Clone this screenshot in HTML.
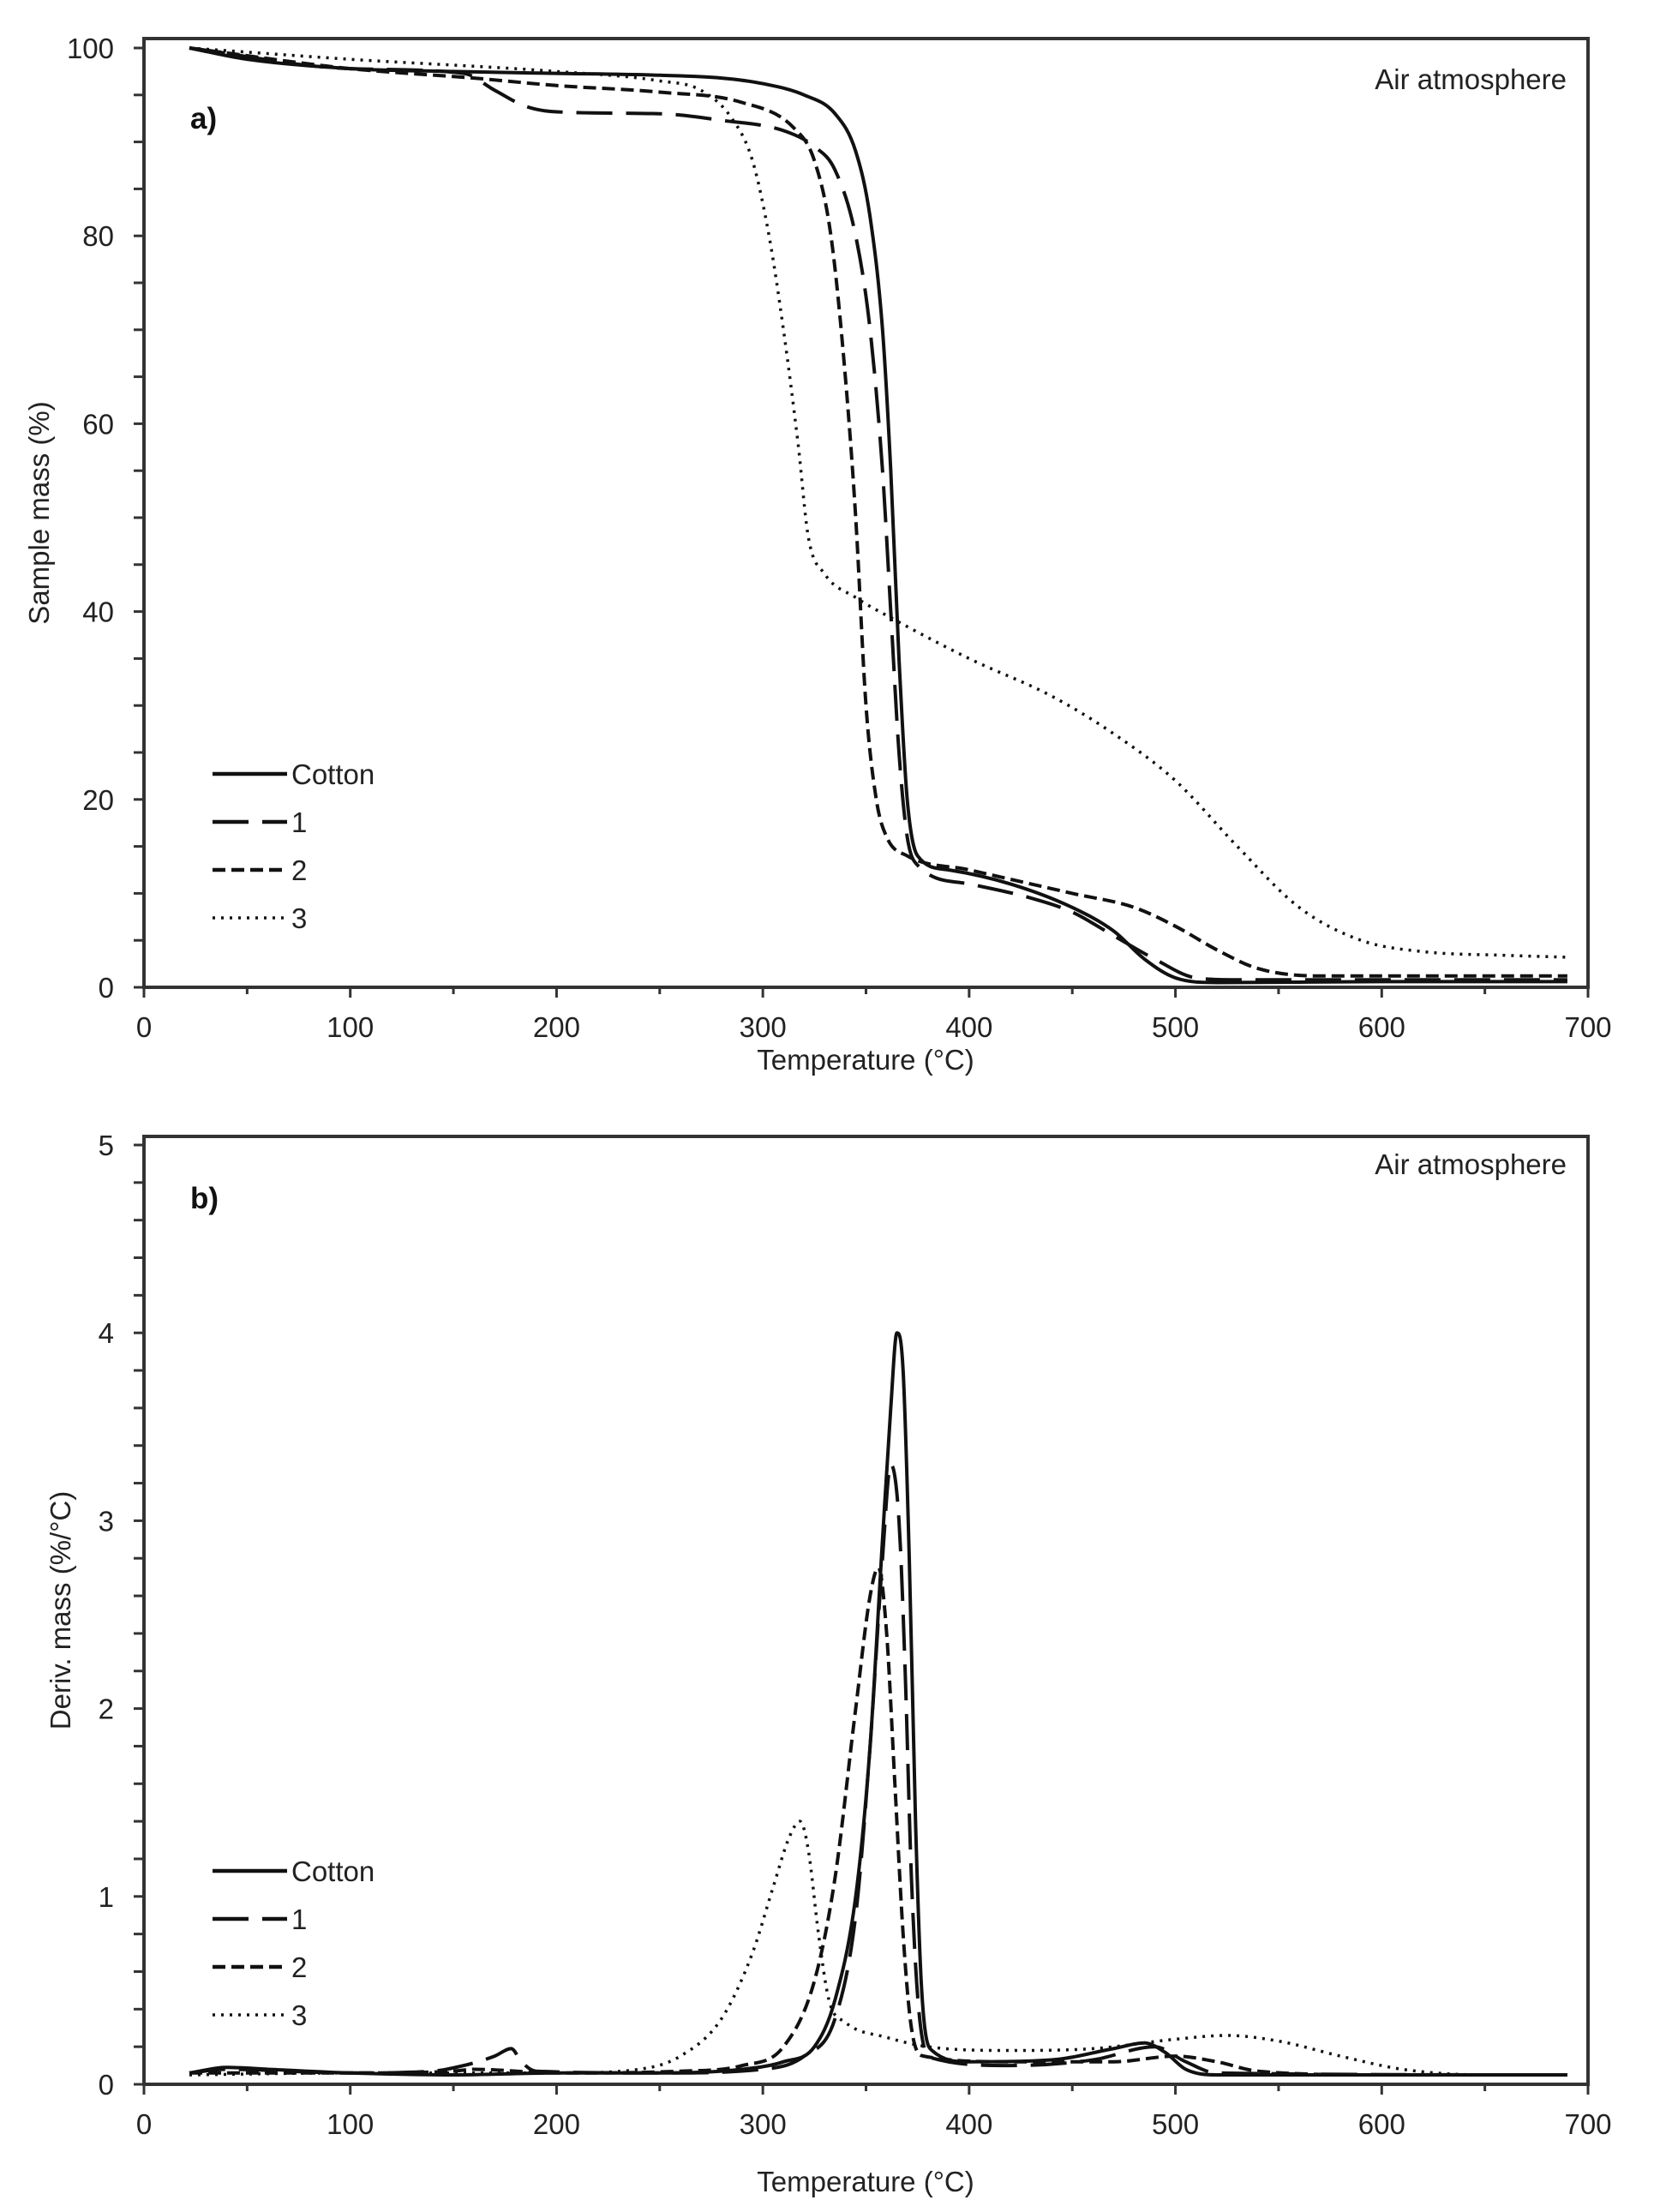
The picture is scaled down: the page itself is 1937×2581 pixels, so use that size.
<!DOCTYPE html>
<html><head><meta charset="utf-8"><style>
html,body{margin:0;padding:0;background:#fff;}
svg{display:block;font-family:"Liberation Sans",Arial,sans-serif;}
</style></head><body>
<svg id="fig" width="1937" height="2581" viewBox="0 0 1937 2581"></svg>
<script>
const xTicks=[0,100,200,300,400,500,600,700];
const yTicksA=[0,20,40,60,80,100];
const yTicksB=[0,1,2,3,4,5];
const seriesNames=["Cotton","1","2","3"];
// Panel a: sample mass (%)
const aCottonT=[22,50,100,150,200,250,280,300,320,335,345,352,358,362,366,370,375,390,420,450,470,485,500,520,600,690];
const aCottonV=[100,98.8,97.8,97.5,97.3,97.1,96.8,96.2,95,93,89,82,70,55,35,20,14,12.5,11,8.5,6,3,1,0.5,0.6,0.6];
const a1T=[22,100,155,170,185,200,250,280,310,325,335,345,352,358,362,366,370,375,400,430,450,470,490,510,530,690];
const a1V=[100,97.8,97.3,95.5,93.8,93.2,93,92.3,91.2,89.5,87,80,70,55,40,25,16,13,11,9.5,8,5.5,3,1,0.8,0.8];
const a2T=[22,100,160,200,250,290,315,325,333,340,345,350,355,360,370,400,450,480,500,520,540,570,690];
const a2V=[100,97.8,96.8,96,95.3,94.2,91.5,88,80,65,50,30,20,16,14,12.5,10,8.5,6.5,4,2,1.2,1.2];
const a3T=[22,100,200,250,270,285,295,303,310,317,322,330,345,365,400,440,470,500,530,560,590,620,660,690];
const a3V=[100,98.8,97.5,96.5,95.5,92.5,88,80,70,58,48,44,41.5,39,35,31,27,22,15,8.5,5,3.8,3.4,3.2];
// Panel b: derivative mass (%/°C)
const bCottonT=[22,40,60,100,150,200,250,290,310,325,335,345,352,358,362,365,368,371,374,377,382,400,440,470,485,495,505,520,690];
const bCottonV=[0.06,0.09,0.08,0.06,0.05,0.06,0.06,0.08,0.12,0.2,0.45,1.0,1.8,2.9,3.6,4.0,3.8,2.8,1.4,0.5,0.18,0.12,0.13,0.19,0.22,0.17,0.08,0.05,0.05];
const b1T=[22,40,100,140,155,170,178,183,190,250,300,320,335,345,352,358,362,366,369,372,376,382,420,460,490,505,520,690];
const b1V=[0.06,0.08,0.06,0.07,0.1,0.15,0.19,0.12,0.07,0.06,0.08,0.15,0.35,0.9,1.8,2.8,3.3,3.0,2.2,1.1,0.35,0.14,0.1,0.13,0.2,0.12,0.06,0.05];
const b2T=[22,100,150,160,200,260,290,310,325,335,345,352,356,360,364,368,372,378,420,470,500,520,540,600,690];
const b2V=[0.06,0.06,0.07,0.08,0.06,0.07,0.1,0.2,0.55,1.1,2.0,2.6,2.75,2.4,1.6,0.8,0.3,0.15,0.12,0.12,0.15,0.12,0.07,0.05,0.05];
const b3T=[22,100,200,240,260,280,295,305,313,318,322,327,332,340,360,380,420,460,500,525,550,580,610,650,690];
const b3V=[0.05,0.06,0.06,0.08,0.15,0.35,0.7,1.05,1.32,1.4,1.25,0.8,0.45,0.33,0.25,0.2,0.18,0.19,0.24,0.26,0.23,0.15,0.08,0.05,0.05];

const NS="http://www.w3.org/2000/svg";
const svg=document.getElementById('fig');
function mk(tag,attrs,parent){const e=document.createElementNS(NS,tag);for(const k in attrs)e.setAttribute(k,attrs[k]);(parent||svg).appendChild(e);return e;}
const X0=168,X1=1853;
const xs=v=>X0+(X1-X0)*v/700;
const dashes=["none","42 16","15 7","3 7"];

// monotone cubic path (Fritsch-Carlson)
function monoPath(px,py){
  const n=px.length,d=[],m=[];
  for(let i=0;i<n-1;i++)d.push((py[i+1]-py[i])/(px[i+1]-px[i]));
  m[0]=d[0];m[n-1]=d[n-2];
  for(let i=1;i<n-1;i++){m[i]=(d[i-1]*d[i]<=0)?0:(d[i-1]+d[i])/2;}
  for(let i=0;i<n-1;i++){if(d[i]===0){m[i]=0;m[i+1]=0;continue;}
    const a=m[i]/d[i],b=m[i+1]/d[i],s=a*a+b*b;if(s>9){const t=3/Math.sqrt(s);m[i]=t*a*d[i];m[i+1]=t*b*d[i];}}
  let p='M'+px[0].toFixed(1)+','+py[0].toFixed(1);
  for(let i=0;i<n-1;i++){const h=(px[i+1]-px[i])/3;
    p+=' C'+(px[i]+h).toFixed(1)+','+(py[i]+m[i]*h).toFixed(1)+' '+(px[i+1]-h).toFixed(1)+','+(py[i+1]-m[i+1]*h).toFixed(1)+' '+px[i+1].toFixed(1)+','+py[i+1].toFixed(1);}
  return p;
}

function panel(id,top,y0,yTop,yMax,yTicks,minorStep,ytitle,ytitleX,label,labelY,airY,series,legendY,xtitleY){
  const g=mk('g',{});
  
  
  const ys=v=>y0-(y0-yTop)*v/yMax;
  const frame=mk('rect',{x:X0,y:top,width:X1-X0,height:y0-top,fill:'none',stroke:'#333','stroke-width':4},g);
  
  
  for(let v=0;v<=yMax+1e-9;v+=minorStep){const yy=ys(v);const t=mk('line',{x1:X0-12,x2:X0,y1:yy,y2:yy,stroke:'#333','stroke-width':3},g);
    }
  yTicks.forEach(v=>{const t=mk('text',{x:X0-35,y:ys(v)+12,'text-anchor':'end','font-size':33,fill:'#222'},g);t.textContent=v;
    });
  for(let v=0;v<=700;v+=50){const xx=xs(v);const t=mk('line',{x1:xx,x2:xx,y1:y0,y2:y0+(v%100==0?12:8),stroke:'#333','stroke-width':3},g);
    }
  xTicks.forEach(v=>{const t=mk('text',{x:xs(v),y:y0+58,'text-anchor':'middle','font-size':33,fill:'#222'},g);t.textContent=v;
    });
  const xt=mk('text',{x:1010,y:xtitleY,'text-anchor':'middle','font-size':33,fill:'#222'},g);xt.textContent='Temperature (°C)';
  
  const ymid=(top+y0)/2;
  const yt=mk('text',{x:ytitleX,y:ymid,'text-anchor':'middle','font-size':33,fill:'#222',transform:`rotate(-90 ${ytitleX} ${ymid})`},g);yt.textContent=ytitle;
  
  const lb=mk('text',{x:222,y:labelY,'font-size':35,'font-weight':'bold',fill:'#111'},g);lb.textContent=label;
  
  const at=mk('text',{x:1828,y:airY,'text-anchor':'end','font-size':33,fill:'#222'},g);at.textContent='Air atmosphere';
  
  series.forEach((s,i)=>{
    const px=s[0].map(xs),py=s[1].map(ys);
    const p=mk('path',{d:monoPath(px,py),fill:'none',stroke:'#111','stroke-width':i==3?3.5:4,'stroke-linejoin':'round','stroke-dasharray':dashes[i]},g);
    
    
    const ly=legendY+i*56;
    const le=mk('line',{x1:248,x2:335,y1:ly,y2:ly,stroke:'#111','stroke-width':i==3?3.5:4.5,'stroke-dasharray':dashes[i]},g);
    
    const lt=mk('text',{x:340,y:ly+12,'font-size':33,fill:'#222'},g);lt.textContent=seriesNames[i];
    
  });
}
panel('a',45,1152,56,100,yTicksA,5,'Sample mass (%)',57,'a)',150,104,
  [[aCottonT,aCottonV],[a1T,a1V],[a2T,a2V],[a3T,a3V]],903,1248);
panel('b',1326,2432,1336,5,yTicksB,0.2,'Deriv. mass (%/°C)',82,'b)',1410,1370,
  [[bCottonT,bCottonV],[b1T,b1V],[b2T,b2V],[b3T,b3V]],2183,2557);
</script>
</body></html>
